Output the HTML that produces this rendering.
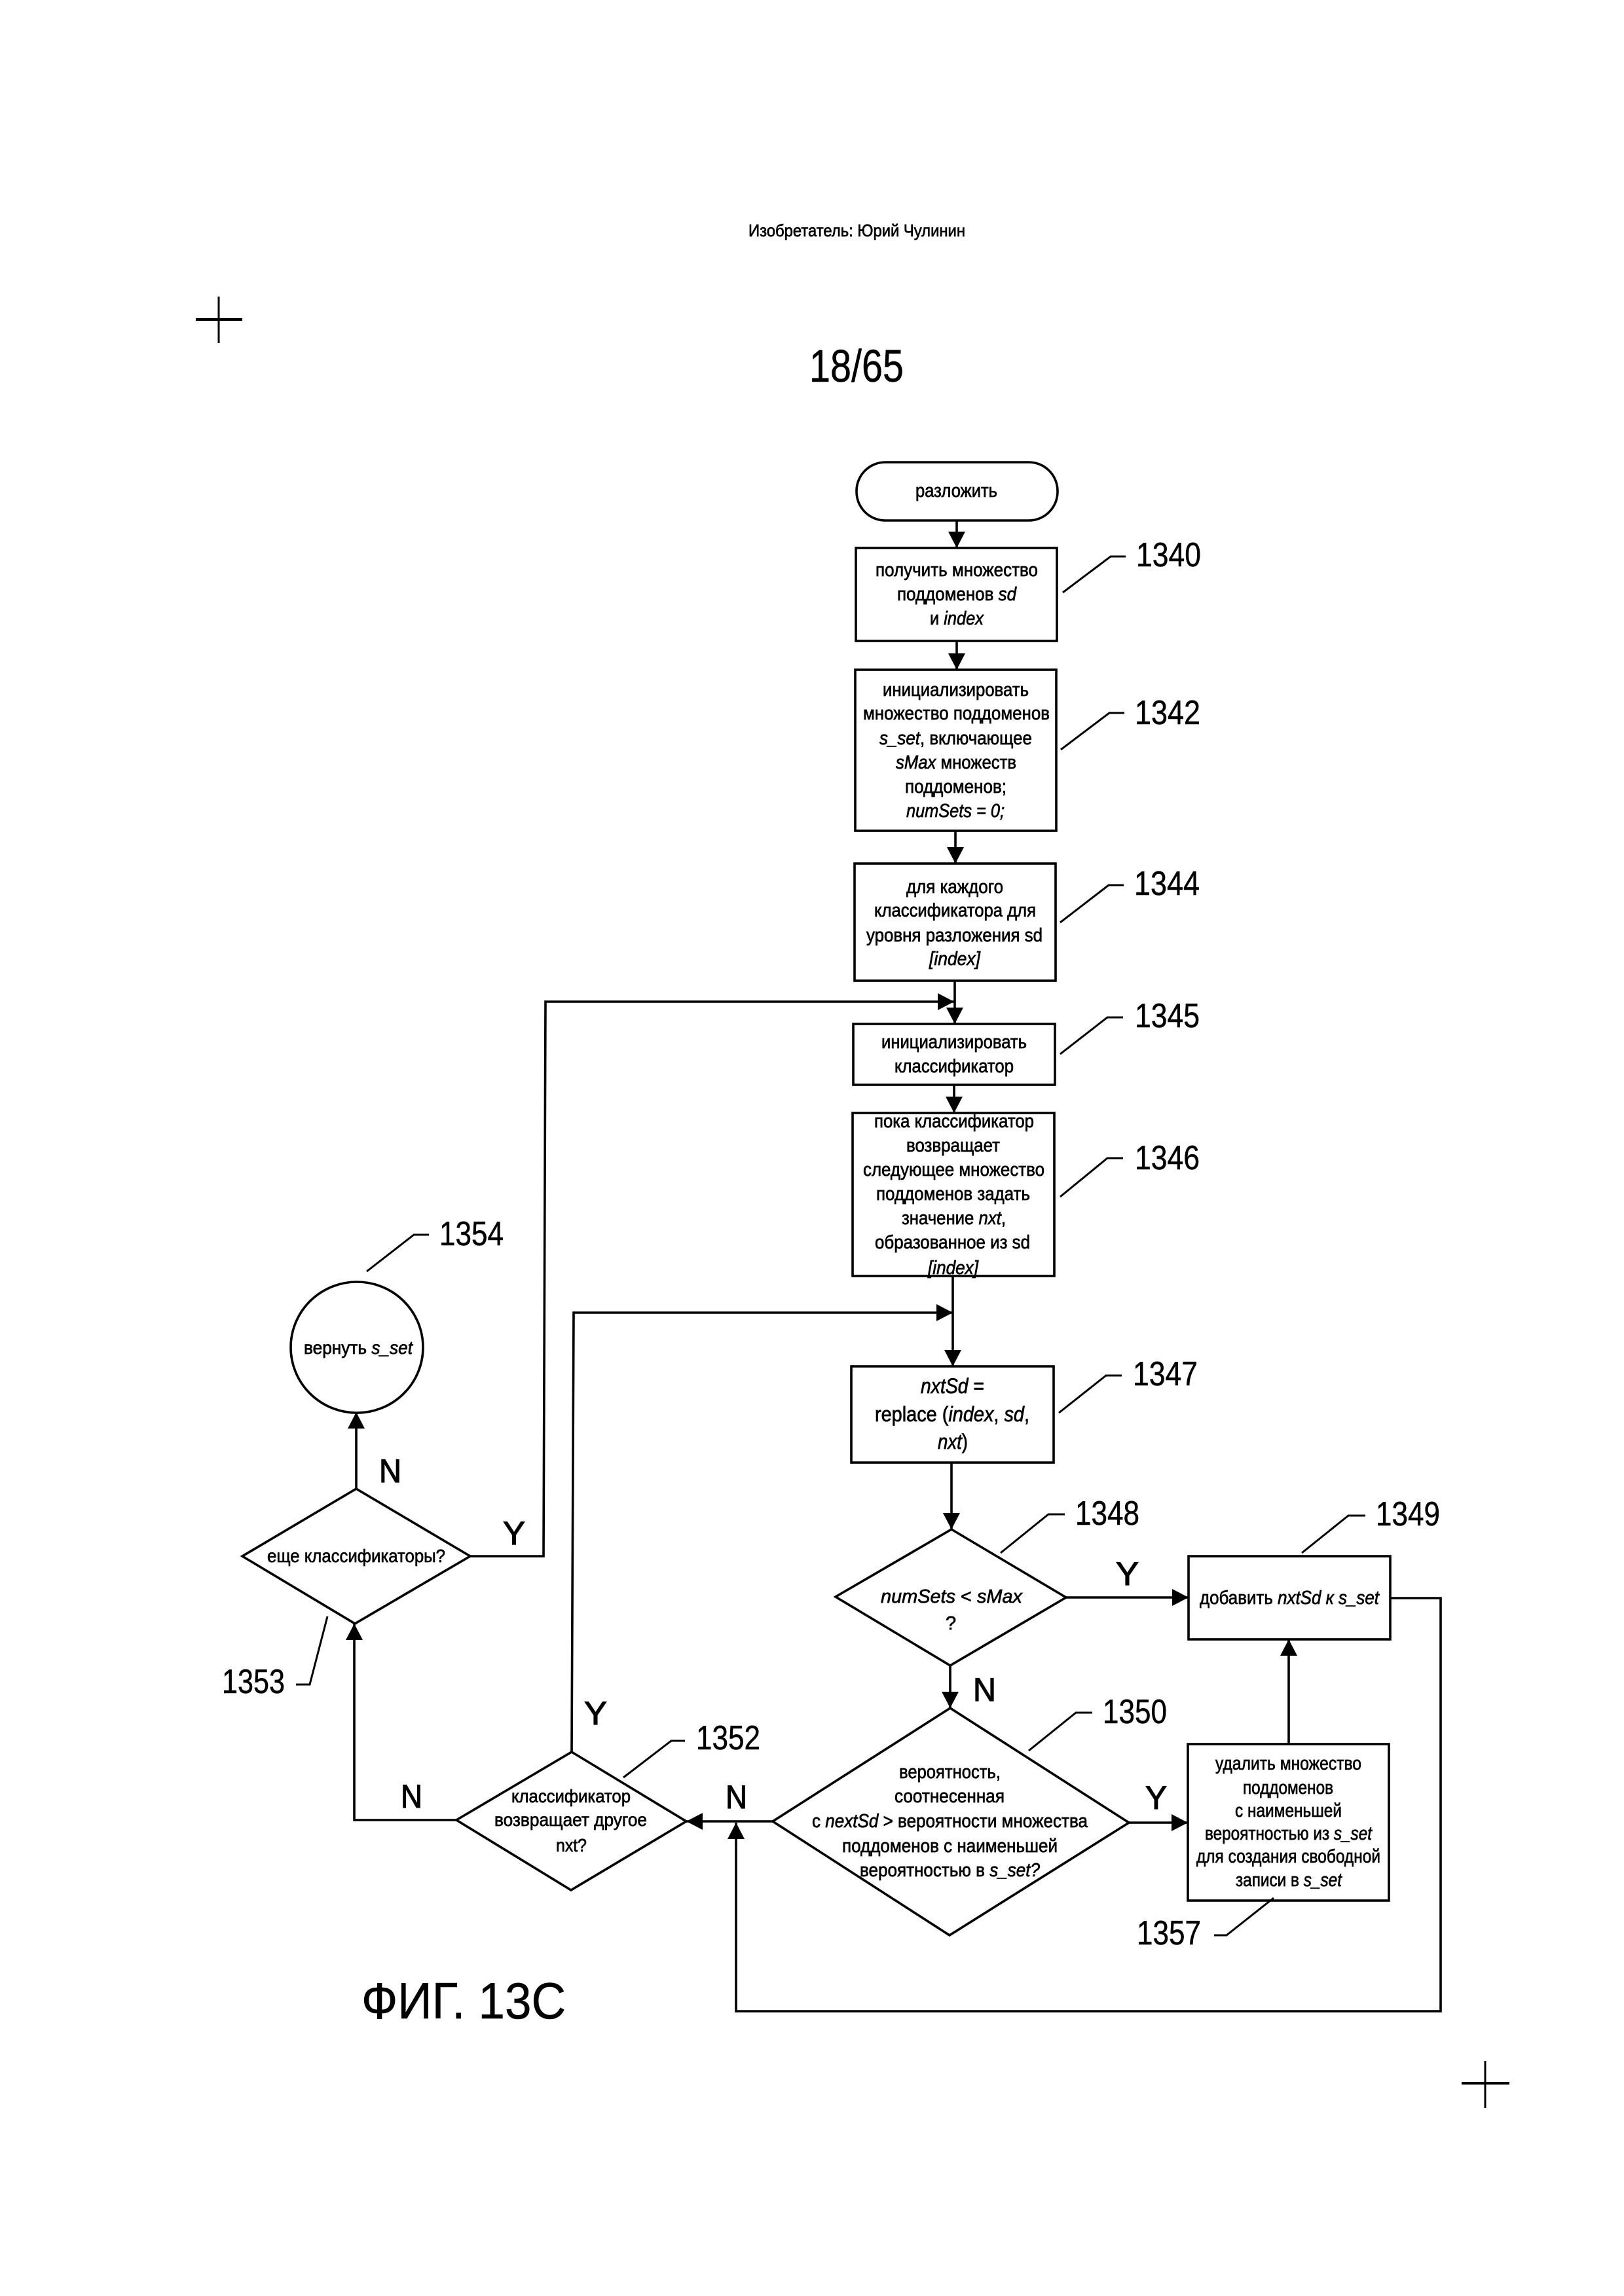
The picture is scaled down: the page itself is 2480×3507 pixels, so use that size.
<!DOCTYPE html>
<html><head><meta charset="utf-8"><style>
html,body{margin:0;padding:0;background:#fff}
svg{display:block}
text{font-family:"Liberation Sans",sans-serif;fill:#000;stroke:#000;stroke-width:.7px}
.t{font-size:29px}
.s{font-size:25px}
.l{font-size:52px;stroke-width:.5px}
.b{font-size:50px;stroke-width:1.2px}
.i{font-style:italic}
.n{fill:none;stroke:#000;stroke-width:3.6}
.thin{fill:none;stroke:#000;stroke-width:3}
.h{fill:#000;stroke:none}
</style></head><body>
<svg xmlns="http://www.w3.org/2000/svg" width="2480" height="3507" viewBox="0 0 2480 3507">
<rect width="2480" height="3507" fill="#fff"/>

<!-- header -->
<text x="1143" y="361" font-size="26" textLength="331" lengthAdjust="spacingAndGlyphs">Изобретатель: Юрий Чулинин</text>
<text x="1236" y="583" font-size="70" textLength="144" lengthAdjust="spacingAndGlyphs" style="stroke-width:.5px">18/65</text>
<path d="M334 453V524" class="thin"/><path d="M299 488H370" fill="none" stroke="#000" stroke-width="4"/>
<path d="M2268 3148V3220" class="thin"/><path d="M2232 3182H2305" fill="none" stroke="#000" stroke-width="4"/>

<!-- shapes -->
<rect x="1308" y="706" width="307" height="89" rx="44" ry="44" class="n"/>
<rect x="1307" y="837" width="307" height="142" class="n"/>
<rect x="1306" y="1023" width="307" height="246" class="n"/>
<rect x="1305" y="1319" width="307" height="179" class="n"/>
<rect x="1303" y="1564" width="308" height="93" class="n"/>
<rect x="1302" y="1700" width="308" height="249" class="n"/>
<rect x="1300" y="2087" width="309" height="147" class="n"/>
<rect x="1815" y="2377" width="308" height="127" class="n"/>
<rect x="1814" y="2664" width="307" height="239" class="n"/>
<polygon points="1453,2336 1628,2440 1451,2544 1276,2439" class="n"/>
<polygon points="1451,2609 1724,2784 1450,2956 1180,2782" class="n"/>
<polygon points="873,2676 1048,2782 872,2887 697,2780" class="n"/>
<polygon points="544,2274 718,2377 542,2480 370,2377" class="n"/>
<ellipse cx="545" cy="2058" rx="101" ry="100" class="n"/>

<!-- connectors -->
<path d="M1461 795V837M1461 979V1023M1459 1269V1319M1458 1498V1564M1457 1657V1700M1455 1949V2087M1453 2234V2336M1451 2544V2609" class="n"/>
<path d="M718 2377H830L833 1530H1457" class="n"/>
<path d="M873 2676L876 2005H1455" class="n"/>
<path d="M544 2274V2157" class="n"/>
<path d="M697 2780H541V2480" class="n"/>
<path d="M1180 2782H1048" class="n"/>
<path d="M1628 2440H1815" class="n"/>
<path d="M1724 2784H1814" class="n"/>
<path d="M1968 2664V2504" class="n"/>
<path d="M2123 2441H2200V3072H1124V2784" class="n"/>

<!-- arrowheads -->
<polygon class="h" points="1448,812 1474,812 1461,837"/>
<polygon class="h" points="1448,998 1474,998 1461,1023"/>
<polygon class="h" points="1446,1294 1472,1294 1459,1319"/>
<polygon class="h" points="1445,1539 1471,1539 1458,1564"/>
<polygon class="h" points="1444,1675 1470,1675 1457,1700"/>
<polygon class="h" points="1442,2062 1468,2062 1455,2087"/>
<polygon class="h" points="1440,2311 1466,2311 1453,2336"/>
<polygon class="h" points="1438,2584 1464,2584 1451,2609"/>
<polygon class="h" points="1432,1517 1432,1543 1457,1530"/>
<polygon class="h" points="1430,1992 1430,2018 1455,2005"/>
<polygon class="h" points="1790,2427 1790,2453 1815,2440"/>
<polygon class="h" points="1789,2771 1789,2797 1814,2784"/>
<polygon class="h" points="1073,2769 1073,2795 1048,2782"/>
<polygon class="h" points="1955,2529 1981,2529 1968,2504"/>
<polygon class="h" points="1111,2809 1137,2809 1124,2784"/>
<polygon class="h" points="531,2182 557,2182 544,2157"/>
<polygon class="h" points="528,2505 554,2505 541,2480"/>

<!-- leaders -->
<path class="thin" d="M1623 905L1696 850H1719M1620 1145L1694 1089H1717M1619 1409L1693 1352H1716M1619 1610L1691 1554H1715M1619 1828L1691 1769H1715M1617 2158L1689 2101H1713M1528 2372L1601 2313H1626M1988 2372L2059 2315H2085M1571 2674L1643 2616H1668M1854 2956H1873L1945 2899M952 2715L1025 2659H1046M452 2573H473L500 2469M560 1942L632 1886H655"/>

<!-- reference numbers -->
<text class="l" x="1735" y="865" textLength="99" lengthAdjust="spacingAndGlyphs">1340</text>
<text class="l" x="1733" y="1106" textLength="100" lengthAdjust="spacingAndGlyphs">1342</text>
<text class="l" x="1732" y="1367" textLength="100" lengthAdjust="spacingAndGlyphs">1344</text>
<text class="l" x="1733" y="1569" textLength="99" lengthAdjust="spacingAndGlyphs">1345</text>
<text class="l" x="1733" y="1786" textLength="99" lengthAdjust="spacingAndGlyphs">1346</text>
<text class="l" x="1730" y="2116" textLength="99" lengthAdjust="spacingAndGlyphs">1347</text>
<text class="l" x="1642" y="2329" textLength="98" lengthAdjust="spacingAndGlyphs">1348</text>
<text class="l" x="2101" y="2330" textLength="98" lengthAdjust="spacingAndGlyphs">1349</text>
<text class="l" x="1684" y="2632" textLength="98" lengthAdjust="spacingAndGlyphs">1350</text>
<text class="l" x="1736" y="2970" textLength="98" lengthAdjust="spacingAndGlyphs">1357</text>
<text class="l" x="1063" y="2672" textLength="98" lengthAdjust="spacingAndGlyphs">1352</text>
<text class="l" x="339" y="2586" textLength="96" lengthAdjust="spacingAndGlyphs">1353</text>
<text class="l" x="671" y="1902" textLength="98" lengthAdjust="spacingAndGlyphs">1354</text>

<!-- Y / N -->
<text class="b" x="1704" y="2421" textLength="35" lengthAdjust="spacingAndGlyphs">Y</text>
<text class="b" x="1486" y="2598" textLength="35" lengthAdjust="spacingAndGlyphs">N</text>
<text class="b" x="1749" y="2763" textLength="33" lengthAdjust="spacingAndGlyphs">Y</text>
<text class="b" x="1108" y="2762" textLength="33" lengthAdjust="spacingAndGlyphs">N</text>
<text class="b" x="612" y="2761" textLength="33" lengthAdjust="spacingAndGlyphs">N</text>
<text class="b" x="892" y="2634" textLength="35" lengthAdjust="spacingAndGlyphs">Y</text>
<text class="b" x="768" y="2359" textLength="34" lengthAdjust="spacingAndGlyphs">Y</text>
<text class="b" x="579" y="2264" textLength="34" lengthAdjust="spacingAndGlyphs">N</text>

<!-- node text -->
<text class="t" x="1398" y="759" textLength="125" lengthAdjust="spacingAndGlyphs">разложить</text>

<text class="t" x="1337" y="880" textLength="248" lengthAdjust="spacingAndGlyphs">получить множество</text>
<text class="t" x="1370" y="917" textLength="182" lengthAdjust="spacingAndGlyphs">поддоменов <tspan class="i">sd</tspan></text>
<text class="t" x="1420" y="954" textLength="82" lengthAdjust="spacingAndGlyphs">и <tspan class="i">index</tspan></text>

<text class="t" x="1348" y="1063" textLength="223" lengthAdjust="spacingAndGlyphs">инициализировать</text>
<text class="t" x="1318" y="1099" textLength="285" lengthAdjust="spacingAndGlyphs">множество поддоменов</text>
<text class="t" x="1343" y="1137" textLength="233" lengthAdjust="spacingAndGlyphs"><tspan class="i">s_set</tspan>, включающее</text>
<text class="t" x="1368" y="1174" textLength="184" lengthAdjust="spacingAndGlyphs"><tspan class="i">sMax</tspan> множеств</text>
<text class="t" x="1382" y="1211" textLength="155" lengthAdjust="spacingAndGlyphs">поддоменов;</text>
<text class="t i" x="1384" y="1248" textLength="150" lengthAdjust="spacingAndGlyphs">numSets = 0;</text>

<text class="t" x="1384" y="1364" textLength="148" lengthAdjust="spacingAndGlyphs">для каждого</text>
<text class="t" x="1335" y="1400" textLength="247" lengthAdjust="spacingAndGlyphs">классификатора для</text>
<text class="t" x="1323" y="1438" textLength="269" lengthAdjust="spacingAndGlyphs">уровня разложения sd</text>
<text class="t i" x="1419" y="1474" textLength="78" lengthAdjust="spacingAndGlyphs">[index]</text>

<text class="t" x="1346" y="1601" textLength="222" lengthAdjust="spacingAndGlyphs">инициализировать</text>
<text class="t" x="1366" y="1638" textLength="182" lengthAdjust="spacingAndGlyphs">классификатор</text>

<text class="t" x="1335" y="1722" textLength="244" lengthAdjust="spacingAndGlyphs">пока классификатор</text>
<text class="t" x="1384" y="1759" textLength="143" lengthAdjust="spacingAndGlyphs">возвращает</text>
<text class="t" x="1318" y="1796" textLength="277" lengthAdjust="spacingAndGlyphs">следующее множество</text>
<text class="t" x="1338" y="1833" textLength="235" lengthAdjust="spacingAndGlyphs">поддоменов задать</text>
<text class="t" x="1377" y="1870" textLength="159" lengthAdjust="spacingAndGlyphs">значение <tspan class="i">nxt</tspan>,</text>
<text class="t" x="1336" y="1907" textLength="237" lengthAdjust="spacingAndGlyphs">образованное из sd</text>
<text class="t i" x="1417" y="1946" textLength="77" lengthAdjust="spacingAndGlyphs">[index]</text>

<text class="t" x="1406" y="2128" textLength="97" lengthAdjust="spacingAndGlyphs" style="font-size:32px"><tspan class="i">nxtSd</tspan> =</text>
<text class="t" x="1336" y="2171" textLength="236" lengthAdjust="spacingAndGlyphs" style="font-size:32px">replace (<tspan class="i">index</tspan>, <tspan class="i">sd</tspan>,</text>
<text class="t" x="1432" y="2213" textLength="46" lengthAdjust="spacingAndGlyphs" style="font-size:32px"><tspan class="i">nxt</tspan>)</text>

<text class="t" x="1345" y="2448" textLength="216" lengthAdjust="spacingAndGlyphs"><tspan class="i">numSets</tspan> &lt; <tspan class="i">sMax</tspan></text>
<text class="t" x="1444" y="2489">?</text>

<text class="t" x="1832" y="2450" textLength="274" lengthAdjust="spacingAndGlyphs">добавить <tspan class="i">nxtSd к s_set</tspan></text>

<text class="t" x="1373" y="2716" textLength="155" lengthAdjust="spacingAndGlyphs">вероятность,</text>
<text class="t" x="1366" y="2753" textLength="168" lengthAdjust="spacingAndGlyphs">соотнесенная</text>
<text class="t" x="1240" y="2791" textLength="421" lengthAdjust="spacingAndGlyphs">с <tspan class="i">nextSd</tspan> &gt; вероятности множества</text>
<text class="t" x="1286" y="2829" textLength="329" lengthAdjust="spacingAndGlyphs">поддоменов с наименьшей</text>
<text class="t" x="1313" y="2866" textLength="275" lengthAdjust="spacingAndGlyphs">вероятностью в <tspan class="i">s_set?</tspan></text>

<text class="t" x="1856" y="2703" textLength="223" lengthAdjust="spacingAndGlyphs">удалить множество</text>
<text class="t" x="1898" y="2740" textLength="138" lengthAdjust="spacingAndGlyphs">поддоменов</text>
<text class="t" x="1886" y="2775" textLength="163" lengthAdjust="spacingAndGlyphs">с наименьшей</text>
<text class="t" x="1840" y="2810" textLength="255" lengthAdjust="spacingAndGlyphs">вероятностью из <tspan class="i">s_set</tspan></text>
<text class="t" x="1827" y="2845" textLength="281" lengthAdjust="spacingAndGlyphs">для создания свободной</text>
<text class="t" x="1887" y="2881" textLength="162" lengthAdjust="spacingAndGlyphs">записи в <tspan class="i">s_set</tspan></text>

<text class="s" x="781" y="2753" textLength="182" lengthAdjust="spacingAndGlyphs" style="font-size:28px">классификатор</text>
<text class="s" x="755" y="2789" textLength="233" lengthAdjust="spacingAndGlyphs" style="font-size:28px">возвращает другое</text>
<text class="s" x="849" y="2828" textLength="47" lengthAdjust="spacingAndGlyphs" style="font-size:28px">nxt?</text>
<text class="s" x="408" y="2386" textLength="272" lengthAdjust="spacingAndGlyphs" style="font-size:28px">еще классификаторы?</text>
<text class="s" x="464" y="2068" textLength="166" lengthAdjust="spacingAndGlyphs" style="font-size:28px">вернуть <tspan class="i">s_set</tspan></text>

<text x="552" y="3083" font-size="78" textLength="312" lengthAdjust="spacingAndGlyphs" style="stroke-width:.6px">ФИГ. 13С</text>
</svg>
</body></html>
